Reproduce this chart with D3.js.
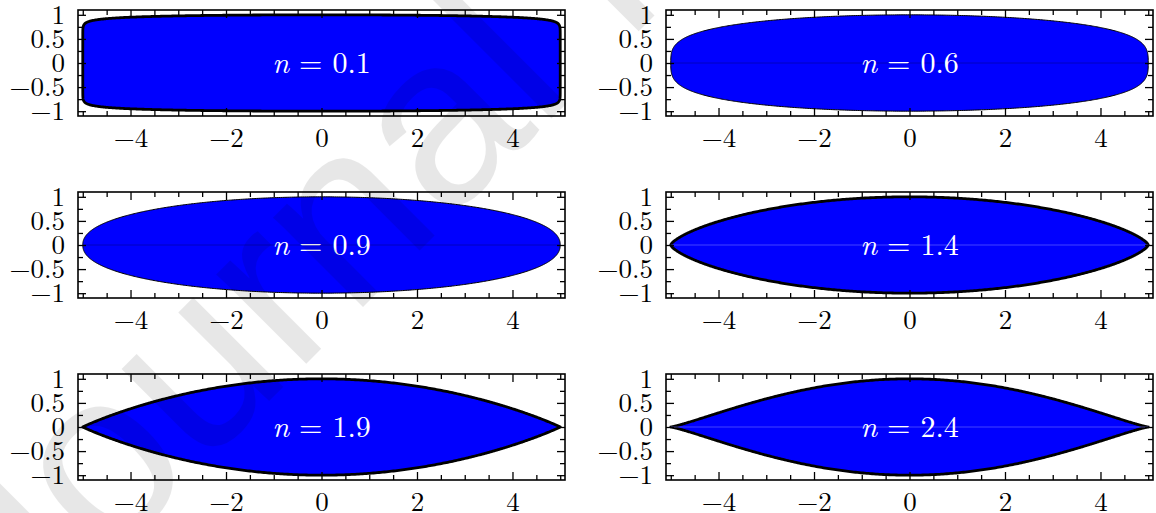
<!DOCTYPE html>
<html>
<head>
<meta charset="utf-8">
<script src="https://cdn.jsdelivr.net/npm/d3@7"></script>
<style>
	body { margin: 0; background: #fff; }
</style>
</head>
<body>
<div id="chart"></div>
<script>
// shape parameter of each panel
var exponents = [0.1, 0.6, 0.9, 1.4, 1.9, 2.4];
var semiAxisX = 5;
var semiAxisY = 1;

var xDomain = [-5.1, 5.1];
var yDomain = [-1.1, 1.1];
var xMajorTicks = [-4, -2, 0, 2, 4];
var xMinorTicks = [-5, -4.5, -3.5, -3, -2.5, -1.5, -1, -0.5, 0.5, 1, 1.5, 2.5, 3, 3.5, 4.5, 5];
var yMajorTicks = [-1, -0.5, 0, 0.5, 1];
var yMinorTicks = [-0.75, -0.25, 0.25, 0.75];
var xTickLabels = ['\u22124', '\u22122', '0', '2', '4'];
var yTickLabels = ['\u22121', '\u22120.5', '0', '0.5', '1'];

// look of each panel (outline weight, faint seam along y = 0)
var outlineWidth = [2.8, 1, 1, 2.8, 2.8, 2.8];
var seamColor = [null, '#000090', '#000090', '#7a7aff', null, '#7a7aff'];

var serif = '"Latin Modern Roman", "Liberation Serif", serif';
var width = 1156, height = 513;
var colLeft = [78, 666];
var rowTop = [10, 192, 374];
var panelW = 487, panelH = 106;

var svg = d3.select('#chart').append('svg')
	.attr('width', width)
	.attr('height', height);

var x = d3.scaleLinear().domain(xDomain).range([0, panelW]);
var y = d3.scaleLinear().domain(yDomain).range([panelH, 0]);

// half thickness of the body: |x/a|^2 + |y/b|^(2/n) = 1
function profile(s, n) {
	var r = 1 - (s / semiAxisX) * (s / semiAxisX);
	return semiAxisY * Math.pow(Math.max(r, 0), n / 2);
}

var steps = 400;
var stations = d3.range(steps + 1).map(function(i) {
	return -semiAxisX * Math.cos(Math.PI * i / steps);
});

function outline(n) {
	var upper = stations.map(function(s) { return [s, profile(s, n)]; });
	var lower = stations.slice().reverse().map(function(s) { return [s, -profile(s, n)]; });
	return upper.concat(lower);
}

var line = d3.line()
	.x(function(d) { return x(d[0]); })
	.y(function(d) { return y(d[1]); });

exponents.forEach(function(n, i) {
	var col = i % 2, row = Math.floor(i / 2);
	var g = svg.append('g')
		.attr('transform', 'translate(' + colLeft[col] + ',' + rowTop[row] + ')');

	g.append('path')
		.attr('d', line(outline(n)) + 'Z')
		.attr('fill', '#0000ff')
		.attr('stroke', '#000')
		.attr('stroke-width', outlineWidth[i])
		.attr('stroke-linejoin', 'round');

	if (seamColor[i]) {
		g.append('line')
			.attr('x1', x(-semiAxisX)).attr('x2', x(semiAxisX))
			.attr('y1', y(0)).attr('y2', y(0))
			.attr('stroke', seamColor[i])
			.attr('stroke-width', 0.8)
			.attr('opacity', 0.7);
	}

	var label = g.append('text')
		.attr('x', x(0))
		.attr('y', y(0) + 10)
		.attr('text-anchor', 'middle')
		.attr('font-family', serif)
		.attr('fill', '#fff')
		.attr('font-size', 30);
	label.append('tspan').attr('font-style', 'italic').text('n');
	label.append('tspan').text(' = ' + n);

	// ticks point inward on every side
	var axes = [
		{ axis: d3.axisBottom(x).tickValues(xMajorTicks).tickSize(-8).tickPadding(12)
			.tickFormat(function(d, k) { return xTickLabels[k]; }), at: [0, panelH] },
		{ axis: d3.axisBottom(x).tickValues(xMinorTicks).tickSize(-5).tickFormat(''), at: [0, panelH] },
		{ axis: d3.axisTop(x).tickValues(xMajorTicks).tickSize(-8).tickFormat(''), at: [0, 0] },
		{ axis: d3.axisTop(x).tickValues(xMinorTicks).tickSize(-5).tickFormat(''), at: [0, 0] },
		{ axis: d3.axisLeft(y).tickValues(yMajorTicks).tickSize(-8).tickPadding(13)
			.tickFormat(function(d, k) { return yTickLabels[k]; }), at: [0, 0] },
		{ axis: d3.axisLeft(y).tickValues(yMinorTicks).tickSize(-5).tickFormat(''), at: [0, 0] },
		{ axis: d3.axisRight(y).tickValues(yMajorTicks).tickSize(-8).tickFormat(''), at: [panelW, 0] },
		{ axis: d3.axisRight(y).tickValues(yMinorTicks).tickSize(-5).tickFormat(''), at: [panelW, 0] }
	];
	axes.forEach(function(a) {
		var ax = g.append('g')
			.attr('transform', 'translate(' + a.at[0] + ',' + a.at[1] + ')')
			.call(a.axis);
		ax.select('.domain').remove();
		ax.selectAll('line').attr('stroke', '#000').attr('stroke-width', 1.3);
		ax.selectAll('text')
			.attr('font-size', 27)
			.attr('font-family', serif)
			.attr('fill', '#000');
	});

	g.append('rect')
		.attr('width', panelW)
		.attr('height', panelH)
		.attr('fill', 'none')
		.attr('stroke', '#000')
		.attr('stroke-width', 1.6);
});

// faint diagonal watermark over the figure
svg.append('text')
	.attr('transform', 'translate(21,649) rotate(-45)')
	.attr('font-family', '"Liberation Sans", Arial, sans-serif')
	.attr('font-size', 240)
	.attr('fill', '#000')
	.attr('opacity', 0.09)
	.text('Journal Pre-proof');
</script>
</body>
</html>
